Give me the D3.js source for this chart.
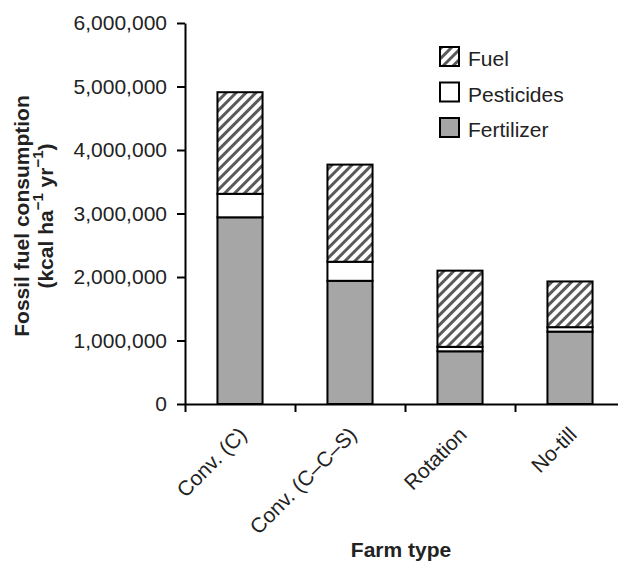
<!DOCTYPE html>
<html><head><meta charset="utf-8">
<script src="https://cdn.jsdelivr.net/npm/d3@7"></script>
<style>
body{margin:0;background:#fff;}
text{font-family:"Liberation Sans",Arial,Helvetica,sans-serif;fill:#222;}
</style></head>
<body><svg id="chart" width="618" height="564"></svg>
<script>
const categories = ["Conv. (C)", "Conv. (C\u2013C\u2013S)", "Rotation", "No-till"];
const fertilizer = [2940000, 1940000, 830000, 1140000];
const pesticides = [370000, 300000, 70000, 70000];
const fuel = [1600000, 1530000, 1200000, 720000];
const seriesNames = ["Fertilizer", "Pesticides", "Fuel"];
const legendOrder = ["Fuel", "Pesticides", "Fertilizer"];
const yTicks = [0, 1000000, 2000000, 3000000, 4000000, 5000000, 6000000];

const svg = d3.select("#chart");
const x0 = 185, x1 = 625, yTop = 23, yBot = 404;
const FS = 21;

const defs = svg.append("defs");
const pat = defs.append("pattern").attr("id","hatch").attr("patternUnits","userSpaceOnUse")
  .attr("width",7).attr("height",7).attr("patternTransform","rotate(45)");
pat.append("rect").attr("width",7).attr("height",7).attr("fill","#fff");
pat.append("rect").attr("x",0).attr("y",0).attr("width",3).attr("height",7).attr("fill","#5a5a5a");

const fills = {Fertilizer:"#a6a6a6", Pesticides:"#ffffff", Fuel:"url(#hatch)"};

const x = d3.scaleBand().domain(categories).range([x0, x1]).paddingInner(0.59).paddingOuter(0.295);
const y = d3.scaleLinear().domain([0, 6000000]).range([yBot, yTop]);

const rows = categories.map((c,i)=>({cat:c, Fertilizer:fertilizer[i], Pesticides:pesticides[i], Fuel:fuel[i]}));
const stacked = d3.stack().keys(seriesNames)(rows);

stacked.forEach(layer=>{
  svg.append("g").selectAll("rect").data(layer).join("rect")
    .attr("x", d=>x(d.data.cat))
    .attr("y", d=>y(d[1]))
    .attr("width", x.bandwidth())
    .attr("height", d=>y(d[0])-y(d[1]))
    .attr("fill", fills[layer.key])
    .attr("stroke","#000").attr("stroke-width",2);
});

const yAxis = svg.append("g").attr("transform",`translate(${x0},0)`)
  .call(d3.axisLeft(y).tickValues(yTicks).tickFormat(d3.format(",")).tickSize(8).tickPadding(10).tickSizeOuter(0));
yAxis.select(".domain").attr("stroke","#000").attr("stroke-width",2);
yAxis.selectAll(".tick line").attr("stroke","#000").attr("stroke-width",2);
yAxis.selectAll(".tick text").attr("font-size",FS).attr("font-family","Liberation Sans, Arial, sans-serif").attr("fill","#222");

const xb = d3.scaleLinear().domain([0, categories.length]).range([x0, x1]);
const xAxis = svg.append("g").attr("transform",`translate(0,${yBot})`)
  .call(d3.axisBottom(xb).tickValues(d3.range(categories.length+1)).tickFormat("").tickSize(8).tickSizeOuter(0));
xAxis.select(".domain").attr("stroke","#000").attr("stroke-width",2);
xAxis.selectAll(".tick line").attr("stroke","#000").attr("stroke-width",2);

svg.append("g").selectAll("text").data(categories).join("text")
  .attr("transform", d=>`translate(${x(d)+x.bandwidth()/2+8},436) rotate(-45)`)
  .attr("text-anchor","end").attr("font-size",FS).text(d=>d);

svg.append("text").attr("x",401).attr("y",557).attr("text-anchor","middle")
  .attr("font-size",FS).attr("font-weight","bold").text("Farm type");
const yt = svg.append("g").attr("transform","translate(0,216) rotate(-90)");
yt.append("text").attr("x",0).attr("y",29).attr("text-anchor","middle")
  .attr("font-size",FS).attr("font-weight","bold").text("Fossil fuel consumption");
const t2 = yt.append("text").attr("x",0).attr("y",53).attr("text-anchor","middle")
  .attr("font-size",FS).attr("font-weight","bold");
t2.append("tspan").text("(kcal ha");
t2.append("tspan").attr("dy",-10).attr("font-size",15).text("\u22121");
t2.append("tspan").attr("dy",10).text(" yr");
t2.append("tspan").attr("dy",-10).attr("font-size",15).text("\u22121");
t2.append("tspan").attr("dy",10).text(")");

const lg = svg.append("g").attr("transform","translate(440,47)");
legendOrder.forEach((k,i)=>{
  const g = lg.append("g").attr("transform",`translate(0,${i*35.5})`);
  g.append("rect").attr("width",19).attr("height",19).attr("fill",fills[k]).attr("stroke","#000").attr("stroke-width",2);
  g.append("text").attr("x",28).attr("y",19).attr("font-size",FS).text(k);
});
</script></body></html>
